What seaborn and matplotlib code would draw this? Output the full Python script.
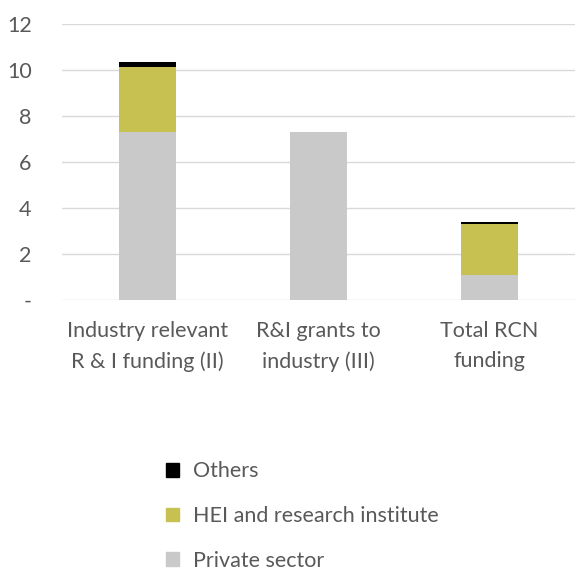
import matplotlib.pyplot as plt
import seaborn as sns
from matplotlib.patches import Patch

categories = ['Industry relevant\nR & I funding (II)', 'R&I grants to\nindustry (III)', 'Total RCN\nfunding']
private_sector = [7.3, 7.3, 1.1]
hei_research = [2.85, 0.0, 2.2]
others = [0.2, 0.0, 0.08]

series_names = ['Private sector', 'HEI and research institute', 'Others']
colors = ['#c9c9c9', '#c6c150', '#000000']
text_color = '#595959'

sns.set_style('white')
plt.rcParams['font.family'] = ['Lato', 'DejaVu Sans']

fig = plt.figure(figsize=(5.76, 5.68), dpi=100)
ax = fig.add_axes([0.108, 0.472, 0.89, 0.485])

bottom1 = private_sector
bottom2 = [a + b for a, b in zip(private_sector, hei_research)]
opts = dict(width=0.33, ax=ax, zorder=2, saturation=1, linewidth=0)
sns.barplot(x=categories, y=private_sector, color=colors[0], **opts)
sns.barplot(x=categories, y=hei_research, bottom=bottom1, color=colors[1], **opts)
sns.barplot(x=categories, y=others, bottom=bottom2, color=colors[2], **opts)

ax.set_ylim(0, 12)
ax.set_yticks(range(0, 13, 2))
ax.set_yticklabels(['-'] + [str(v) for v in range(2, 13, 2)])
ax.yaxis.grid(True, color='#d9d9d9', linewidth=1, zorder=0)
ax.set_axisbelow(True)
for s in ax.spines.values():
    s.set_visible(False)
ax.tick_params(axis='both', length=0, labelsize=15.5, colors=text_color, pad=15)
ax.tick_params(axis='y', pad=22)
ax.set_xlim(-0.5, 2.5)

handles = [Patch(color=c, label=n) for c, n in zip(colors, series_names)][::-1]
fig.legend(handles=handles, loc='upper left', bbox_to_anchor=(0.273, 0.203), frameon=False,
           fontsize=15.5, labelcolor=text_color, handlelength=0.6, handleheight=0.6,
           labelspacing=1.15, handletextpad=0.65, borderaxespad=0)

fig.canvas.draw()
for lbl in ax.get_xticklabels():
    lbl.set_linespacing(1.65)

fig.savefig('out.png', dpi=100)
